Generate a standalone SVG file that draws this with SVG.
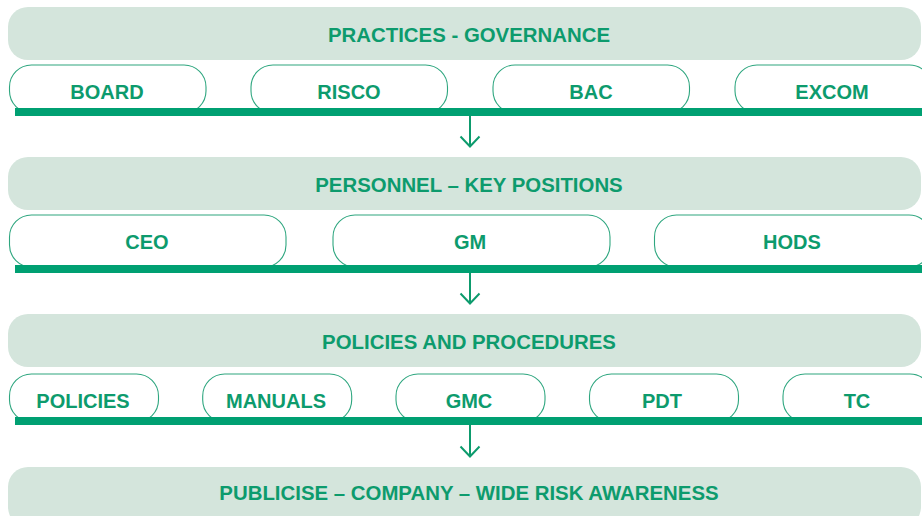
<svg xmlns="http://www.w3.org/2000/svg" width="922" height="516" viewBox="0 0 922 516">
  <style>
    .band { fill: #d4e5dc; }
    .pill { fill: #ffffff; stroke: #2ea67f; stroke-width: 1.1; }
    .bar { fill: #00a072; }
    .lbl { font-family: "Liberation Sans", Arial, sans-serif; font-weight: bold; font-size: 20px; fill: #0d9b6d; text-anchor: middle; }
    .head { font-size: 20.4px; }
    .flow { stroke: #0d9b6d; stroke-width: 2; fill: none; }
  </style>
  <defs>
    <clipPath id="page"><rect x="0" y="0" width="922" height="516"/></clipPath>
  </defs>

  <g clip-path="url(#page)">
    <!-- Stage 1: governance -->
    <g id="practices-governance">
      <rect class="band" x="8" y="7" width="913" height="53" rx="20"/>
      <text class="lbl head" x="469" y="42">PRACTICES - GOVERNANCE</text>
    </g>
    <g id="board"><rect class="pill" x="9.5" y="65" width="196.5" height="48" rx="22"/><text class="lbl" x="107" y="99">BOARD</text></g>
    <g id="risco"><rect class="pill" x="251" y="65" width="196.5" height="48" rx="22"/><text class="lbl" x="349" y="99">RISCO</text></g>
    <g id="bac"><rect class="pill" x="493" y="65" width="196.5" height="48" rx="22"/><text class="lbl" x="591" y="99">BAC</text></g>
    <g id="excom"><rect class="pill" x="735" y="65" width="196.5" height="48" rx="22"/><text class="lbl" x="832" y="99">EXCOM</text></g>

    <!-- Stage 2: key positions -->
    <g id="personnel-key-positions">
      <rect class="band" x="8" y="157" width="913" height="53" rx="20"/>
      <text class="lbl head" x="469" y="192">PERSONNEL – KEY POSITIONS</text>
    </g>
    <g id="ceo"><rect class="pill" x="9.5" y="215" width="276.5" height="52" rx="22"/><text class="lbl" x="147" y="249">CEO</text></g>
    <g id="gm"><rect class="pill" x="333" y="215" width="277" height="52" rx="22"/><text class="lbl" x="470" y="249">GM</text></g>
    <g id="hods"><rect class="pill" x="654.5" y="215" width="276.5" height="52" rx="22"/><text class="lbl" x="792" y="249">HODS</text></g>

    <!-- Stage 3: policies and procedures -->
    <g id="policies-and-procedures">
      <rect class="band" x="8" y="314" width="913" height="53" rx="20"/>
      <text class="lbl head" x="469" y="349">POLICIES AND PROCEDURES</text>
    </g>
    <g id="policies"><rect class="pill" x="9.5" y="374" width="149" height="48" rx="22"/><text class="lbl" x="83" y="408">POLICIES</text></g>
    <g id="manuals"><rect class="pill" x="202.7" y="374" width="149" height="48" rx="22"/><text class="lbl" x="276" y="408">MANUALS</text></g>
    <g id="gmc"><rect class="pill" x="396" y="374" width="149" height="48" rx="22"/><text class="lbl" x="469" y="408">GMC</text></g>
    <g id="pdt"><rect class="pill" x="589.5" y="374" width="149" height="48" rx="22"/><text class="lbl" x="662" y="408">PDT</text></g>
    <g id="tc"><rect class="pill" x="783" y="374" width="149" height="48" rx="22"/><text class="lbl" x="857" y="408">TC</text></g>

    <!-- Stage 4: awareness -->
    <g id="publicise-risk-awareness">
      <rect class="band" x="8" y="467" width="913" height="60" rx="20"/>
      <text class="lbl head" x="469" y="500">PUBLICISE – COMPANY – WIDE RISK AWARENESS</text>
    </g>

    <!-- Connectors: base rails under each row and the downward arrows -->
    <g id="connectors">
      <rect class="bar" x="15" y="108" width="907" height="8"/>
      <rect class="bar" x="15" y="265" width="907" height="8"/>
      <rect class="bar" x="15" y="417" width="907" height="8"/>
      <path class="flow" d="M470 116 V147 M460.5 136.5 L470 146.5 L479.5 136.5"/>
      <path class="flow" d="M470 273 V304 M460.5 293.5 L470 303.5 L479.5 293.5"/>
      <path class="flow" d="M470 425 V457 M460.5 446.5 L470 456.5 L479.5 446.5"/>
    </g>
  </g>
</svg>
